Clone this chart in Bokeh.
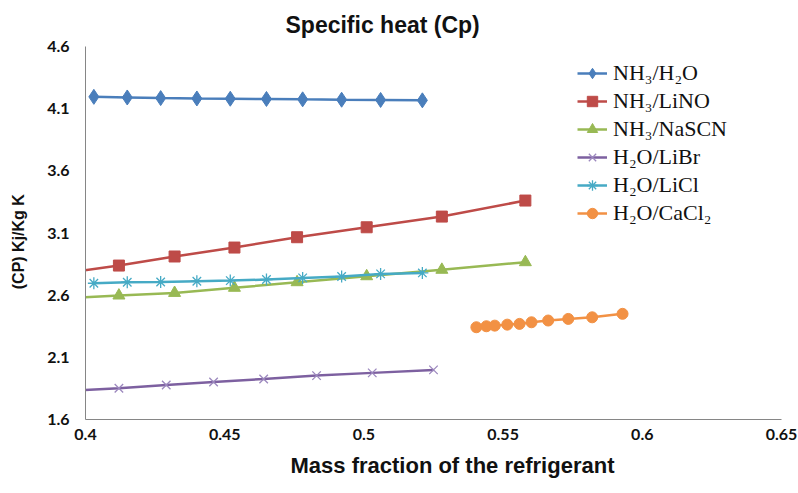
from bokeh.plotting import figure
from bokeh.models import Range1d, Legend, LegendItem, Title, FixedTicker
from bokeh.layouts import row
from bokeh.core.properties import value
from bokeh.embed import file_html
from bokeh.resources import INLINE

# ---- data ----
x_ticks = [0.4, 0.45, 0.5, 0.55, 0.6, 0.65]
x_tick_labels = ["0.4", "0.45", "0.5", "0.55", "0.6", "0.65"]
y_ticks = [1.6, 2.1, 2.6, 3.1, 3.6, 4.1, 4.6]
y_tick_labels = ["1.6", "2.1", "2.6", "3.1", "3.6", "4.1", "4.6"]

nh3_h2o_x = [0.403, 0.415, 0.427, 0.440, 0.452, 0.465, 0.478, 0.492, 0.506, 0.521]
nh3_h2o_y = [4.195, 4.190, 4.185, 4.182, 4.180, 4.178, 4.175, 4.172, 4.170, 4.167]

nh3_lino_x = [0.392, 0.412, 0.432, 0.4535, 0.476, 0.501, 0.528, 0.558]
nh3_lino_y = [2.775, 2.838, 2.911, 2.983, 3.066, 3.146, 3.232, 3.361]

nh3_nascn_x = [0.392, 0.412, 0.432, 0.4535, 0.476, 0.501, 0.528, 0.558]
nh3_nascn_y = [2.573, 2.597, 2.618, 2.659, 2.704, 2.752, 2.804, 2.865]

h2o_libr_x = [0.3955, 0.412, 0.429, 0.446, 0.464, 0.483, 0.503, 0.525]
h2o_libr_y = [1.833, 1.851, 1.878, 1.902, 1.926, 1.953, 1.975, 1.999]

h2o_licl_x = [0.403, 0.415, 0.427, 0.440, 0.452, 0.465, 0.478, 0.492, 0.506, 0.521]
h2o_licl_y = [2.696, 2.704, 2.706, 2.712, 2.717, 2.726, 2.739, 2.750, 2.771, 2.779]

h2o_cacl2_x = [0.5404, 0.5440, 0.5470, 0.5515, 0.5559, 0.5602, 0.5662, 0.5734, 0.5820, 0.5929]
h2o_cacl2_y = [2.342, 2.350, 2.355, 2.363, 2.369, 2.382, 2.396, 2.409, 2.422, 2.450]

series_names = ["NH\u2083/H\u2082O", "NH\u2083/LiNO", "NH\u2083/NaSCN",
                "H\u2082O/LiBr", "H\u2082O/LiCl", "H\u2082O/CaCl\u2082"]

title_text = "Specific heat (Cp)"
x_label_text = "Mass fraction of the refrigerant"
y_label_text = "(CP) Kj/Kg K"

TEXT = "#111111"

# ---- narrow strip holding the rotated y-axis title ----
LEFT_W = 40
lf = figure(width=LEFT_W, height=493, output_backend="svg", toolbar_location=None,
            x_range=Range1d(0, LEFT_W), y_range=Range1d(493, 0),
            x_axis_location=None, y_axis_location=None,
            min_border_left=0, min_border_right=0, min_border_top=0, min_border_bottom=0,
            background_fill_color="white", border_fill_color="white")
lf.outline_line_color = None
lf.xgrid.visible = False
lf.ygrid.visible = False
lf.text(x=[18], y=[258], text=[y_label_text], angle=1.5708,
        text_font=value("Liberation Sans"), text_font_style="bold",
        text_font_size="16px", text_align="center", text_baseline="middle",
        text_color=TEXT)

# ---- main chart ----
p = figure(width=798 - LEFT_W, height=493, output_backend="svg", toolbar_location=None,
           x_range=Range1d(0.4, 0.65), y_range=Range1d(1.6, 4.6),
           min_border_left=85 - LEFT_W, min_border_right=17, min_border_top=46,
           min_border_bottom=74, background_fill_color="white",
           border_fill_color="white")
p.outline_line_color = None
p.xgrid.visible = False
p.ygrid.visible = False

p.title.text = title_text
p.title.align = "left"
p.title.offset = 200
p.title.text_font = "Liberation Sans"
p.title.text_font_style = "bold"
p.title.text_font_size = "23px"
p.title.text_color = TEXT
p.title.standoff = 18

p.add_layout(Title(text=x_label_text, align="left", offset=205,
                   vertical_align="top", standoff=20,
                   text_font="Liberation Sans", text_font_style="bold",
                   text_font_size="22px", text_color=TEXT), "below")

for ax in (p.xaxis[0], p.yaxis[0]):
    ax.axis_line_color = "#868686"
    ax.axis_line_width = 1
    ax.major_tick_line_color = None
    ax.minor_tick_line_color = None
    ax.major_tick_out = 0
    ax.major_tick_in = 0
    ax.minor_tick_out = 0
    ax.minor_tick_in = 0
    ax.major_label_text_font = "Lato"
    ax.major_label_text_font_style = "bold"
    ax.major_label_text_font_size = "16px"
    ax.major_label_text_color = TEXT

p.xaxis[0].ticker = FixedTicker(ticks=x_ticks)
p.yaxis[0].ticker = FixedTicker(ticks=y_ticks)
p.xaxis[0].major_label_overrides = dict(zip(x_ticks, x_tick_labels))
p.yaxis[0].major_label_overrides = dict(zip(y_ticks, y_tick_labels))
p.xaxis[0].major_label_standoff = 9
p.yaxis[0].major_label_standoff = 16

colors = ["#4A7EBB", "#BE4B48", "#98B954", "#7D60A0", "#46AAC5", "#F29144"]
markers = ["diamond", "square", "triangle", "x", "asterisk", "circle"]
sizes = [15, 11, 12, 12, 12, 11]
xs = [nh3_h2o_x, nh3_lino_x, nh3_nascn_x, h2o_libr_x, h2o_licl_x, h2o_cacl2_x]
ys = [nh3_h2o_y, nh3_lino_y, nh3_nascn_y, h2o_libr_y, h2o_licl_y, h2o_cacl2_y]

items = []
for i in range(6):
    ln = p.line(xs[i], ys[i], line_color=colors[i], line_width=2.5)
    if markers[i] in ("x", "asterisk"):
        mk = p.scatter(xs[i], ys[i], marker=markers[i], size=sizes[i],
                       line_color="#9C88BE" if markers[i] == "x" else colors[i],
                       line_width=1.3)
    else:
        mk = p.scatter(xs[i], ys[i], marker=markers[i], size=sizes[i],
                       fill_color=colors[i], line_color=colors[i])
    items.append(LegendItem(label=series_names[i], renderers=[ln, mk]))

legend = Legend(items=items, location=(492, 193), border_line_color=None,
                background_fill_alpha=0, padding=0, margin=0,
                glyph_width=30, glyph_height=26, label_height=26, spacing=2,
                label_standoff=6, label_text_font="Liberation Serif",
                label_text_font_size="22px", label_text_color=TEXT)
p.add_layout(legend, "center")

layout = row(lf, p)
open("out.html", "w").write(file_html(layout, INLINE))
